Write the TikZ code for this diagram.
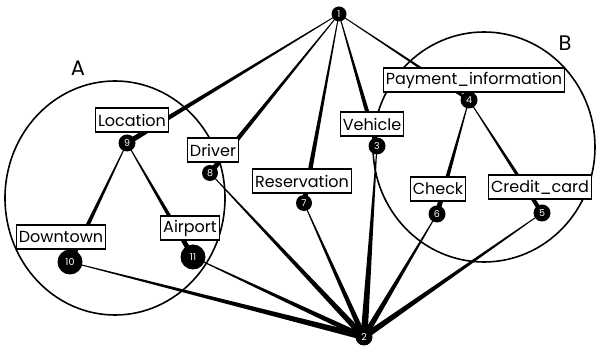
\documentclass[tikz,border=0pt]{standalone}
\usepackage{fontspec}
\setmainfont{Poppins}
\usetikzlibrary{calc}
\pgfdeclarelayer{background}
\pgfsetlayers{background,main}
\newcommand\tapered[4]{\fill let \p1=(#1.center), \p2=(#2.center), \n1={atan2(\y2-\y1,\x2-\x1)} in ($(\p1)+(\n1+90:#3)$) -- ($(\p2)+(\n1+90:#4)$) -- ($(\p2)+(\n1-90:#4)$) -- ($(\p1)+(\n1-90:#3)$) -- cycle;}
\begin{document}
\begin{tikzpicture}[x=1pt,y=-1pt,
  dot/.style={circle,fill=black,inner sep=0pt,minimum size=#1,text=white,font=\fontsize{9.5}{9.5}\selectfont},
  dot/.default=17pt,
  lbl/.style={draw=black,line width=1.4pt,fill=white,inner xsep=2.5pt,inner ysep=1pt,minimum height=24pt,font=\fontsize{16}{16}\selectfont},
  region/.style={draw=black,line width=1.6pt},
  setname/.style={font=\fontsize{21}{21}\selectfont}]
\useasboundingbox (0,0) rectangle (597,352);
% dots
\node[dot=15pt] (n1) at (339,14) {1};
\node[dot] (n2) at (364,337) {2};
\node[dot] (n3) at (377,146) {3};
\node[dot] (n4) at (469,100) {4};
\node[dot] (n5) at (542,213) {5};
\node[dot] (n6) at (437,214) {6};
\node[dot=16pt] (n7) at (304,203) {7};
\node[dot=16pt] (n8) at (210,173) {8};
\node[dot] (n9) at (127,143) {9};
\node[dot=25pt] (n10) at (70,262) {10};
\node[dot=25pt] (n11) at (193,257) {11};
\begin{pgfonlayer}{background}
\draw[region] (115,198) ellipse [x radius=110, y radius=117];
\draw[region] (484,147) ellipse [x radius=111, y radius=115];
\tapered{n1}{n9}{0.4pt}{2.6pt}
\tapered{n1}{n8}{0.4pt}{2.6pt}
\tapered{n1}{n7}{0.4pt}{2.6pt}
\tapered{n1}{n3}{0.4pt}{2.6pt}
\tapered{n1}{n4}{0.4pt}{1.6pt}
\tapered{n9}{n10}{0.4pt}{2.6pt}
\tapered{n9}{n11}{0.4pt}{2.6pt}
\tapered{n4}{n6}{0.4pt}{2.6pt}
\tapered{n4}{n5}{0.4pt}{2.2pt}
\tapered{n10}{n2}{0.4pt}{3.2pt}
\tapered{n11}{n2}{0.4pt}{2.8pt}
\tapered{n8}{n2}{0.4pt}{3pt}
\tapered{n7}{n2}{0.4pt}{2.8pt}
\tapered{n3}{n2}{0.4pt}{3.5pt}
\tapered{n6}{n2}{0.4pt}{3pt}
\tapered{n5}{n2}{0.4pt}{3pt}
\end{pgfonlayer}
% labels
\node[lbl] (lloc) at (132,120) {Location};
\node[lbl] (ldrv) at (213,150) {Driver};
\node[lbl] (lres) at (302,181) {Reservation};
\node[lbl] (lveh) at (372,124) {Vehicle};
\node[lbl] (lpay) at (474,80) {Payment\_information};
\node[lbl] (lchk) at (438,189) {Check};
\node[lbl] (lcc) at (540,187) {Credit\_card};
\node[lbl] (ldown) at (61,237) {Downtown};
\node[lbl] (lair) at (190,228) {Airport};
\node[setname] (sa) at (78,68) {A};
\node[setname] (sb) at (565,43) {B};
\end{tikzpicture}
\end{document}
